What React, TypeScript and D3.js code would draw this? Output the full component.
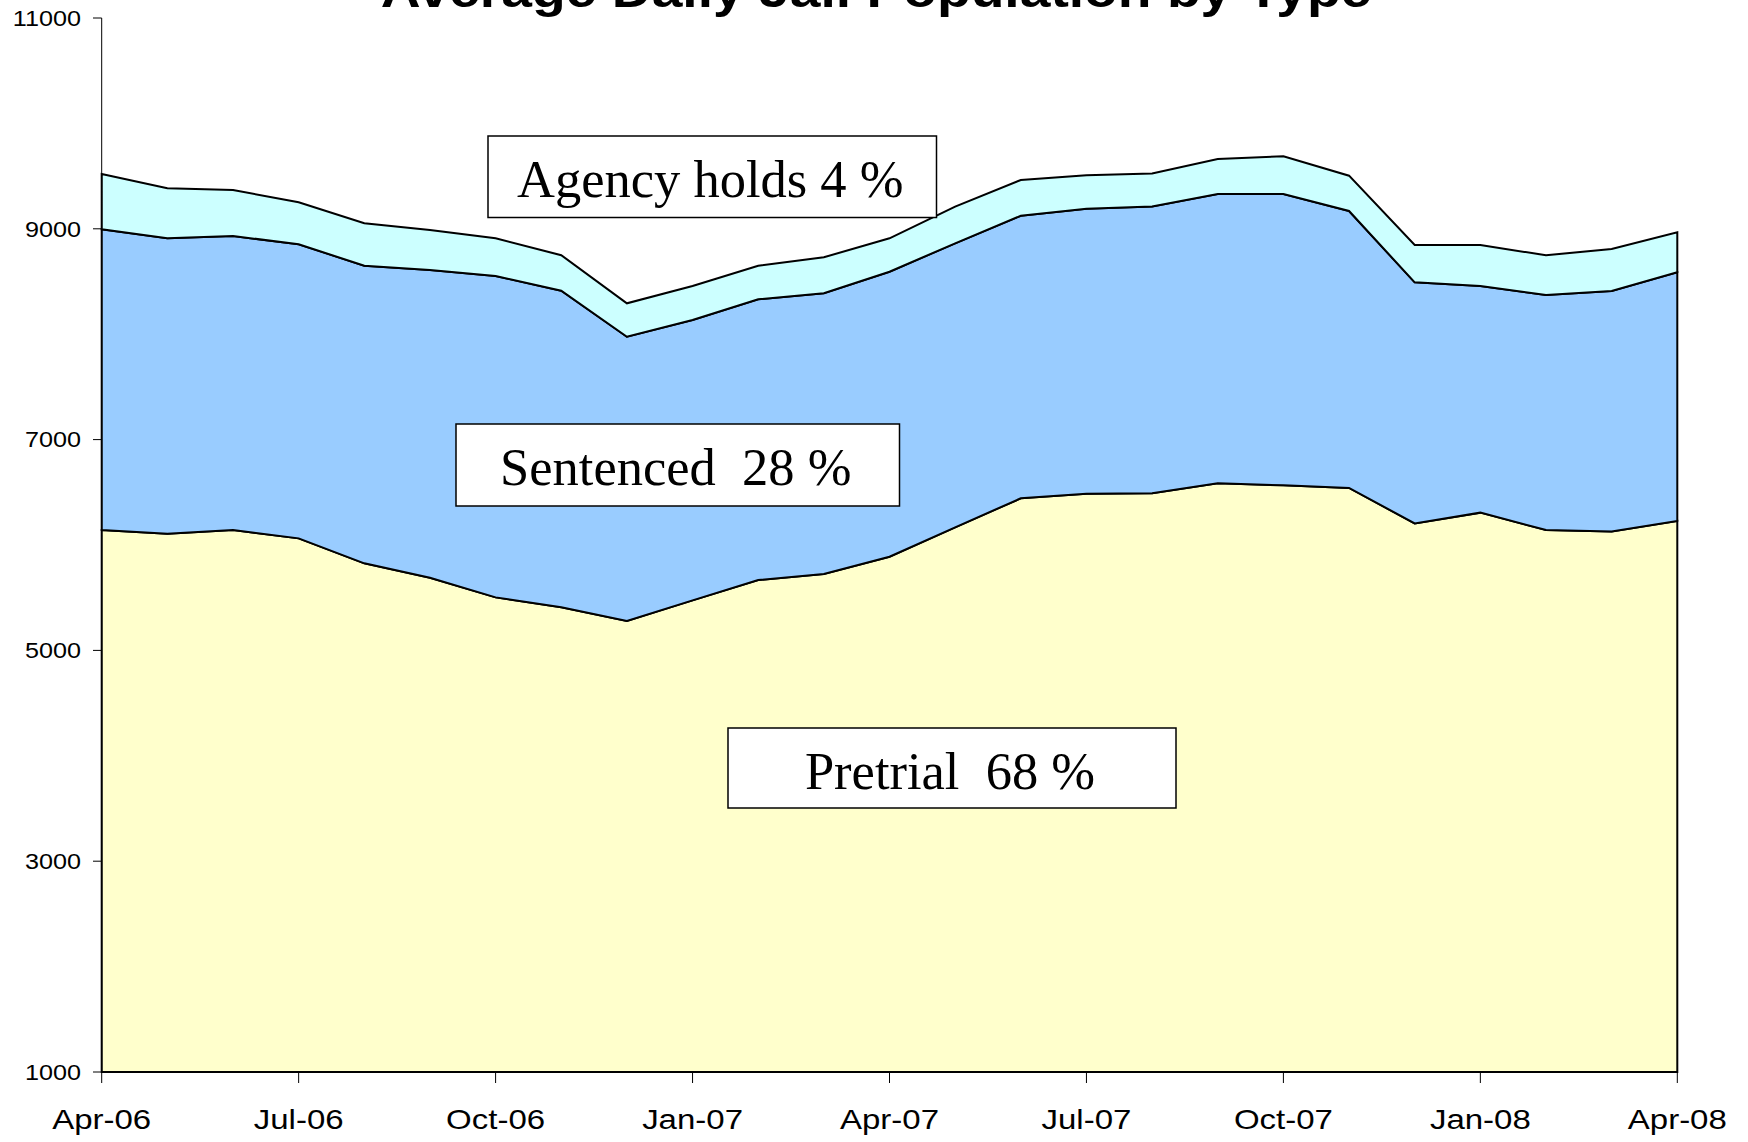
import React from "react";
import * as d3 from "d3";

const months = [
  "Apr-06", "May-06", "Jun-06", "Jul-06", "Aug-06", "Sep-06", "Oct-06", "Nov-06", "Dec-06",
  "Jan-07", "Feb-07", "Mar-07", "Apr-07", "May-07", "Jun-07", "Jul-07", "Aug-07", "Sep-07",
  "Oct-07", "Nov-07", "Dec-07", "Jan-08", "Feb-08", "Mar-08", "Apr-08",
];

const pretrial = [
  6142, 6107, 6142, 6063, 5826, 5690, 5503, 5409, 5279, 5475, 5668, 5725, 5889,
  6168, 6443, 6487, 6490, 6585, 6566, 6541, 6205, 6307, 6142, 6129, 6228,
];
const sentenced = [
  2853, 2803, 2790, 2790, 2824, 2919, 3049, 3004, 2697, 2660, 2663, 2663, 2704,
  2694, 2681, 2704, 2722, 2745, 2764, 2628, 2287, 2150, 2230, 2281, 2359,
];
const agency = [
  525, 474, 436, 398, 402, 380, 358, 336, 317, 322, 319, 342, 317,
  348, 339, 317, 313, 332, 358, 335, 354, 389, 377, 398, 379,
];

const xTickLabels = ["Apr-06", "Jul-06", "Oct-06", "Jan-07", "Apr-07", "Jul-07", "Oct-07", "Jan-08", "Apr-08"];
const yTicks = [1000, 3000, 5000, 7000, 9000, 11000];

const seriesKeys = ["pretrial", "sentenced", "agency"];
const seriesColors = ["#FFFFCC", "#99CCFF", "#CCFFFF"];

const labels = [
  { text: "Agency holds 4 %", box: [488, 136, 936.5, 217.5], baseline: 197 },
  { text: "Sentenced  28 %", box: [456, 424, 899.5, 506], baseline: 484.5 },
  { text: "Pretrial  68 %", box: [728, 728, 1176, 808], baseline: 788.5 },
];

export default function App() {
  const W = 1748;
  const H = 1142;
  const x = d3.scalePoint<string>().domain(months).range([101.7, 1677.3]);
  const y = d3.scaleLinear().domain([1000, 11000]).range([1072, 18]);

  const rows = months.map((m, i) => ({
    month: m,
    pretrial: pretrial[i],
    sentenced: sentenced[i],
    agency: agency[i],
  }));
  const stacked = d3.stack<any>().keys(seriesKeys)(rows);
  const area = d3
    .area<any>()
    .x((d) => x(d.data.month) as number)
    .y0((d) => y(Math.max(d[0], 1000)))
    .y1((d) => y(d[1]));

  const font = "'Liberation Sans', Arial, sans-serif";
  const serif = "'Liberation Serif', 'Times New Roman', serif";

  return (
    <svg
      width={W}
      height={H}
      style={{ position: "absolute", left: 0, top: 0, background: "#fff" }}
    >
      <rect x={0} y={0} width={W} height={H} fill="#fff" />
      {stacked.map((s, i) => (
        <path
          key={s.key}
          d={area(s as any) + "Z"}
          fill={seriesColors[i]}
          stroke="#000"
          strokeWidth={2}
          strokeLinejoin="miter"
        />
      ))}
      {/* y axis */}
      <line x1={101.7} x2={101.7} y1={y(11000)} y2={y(1000)} stroke="#000" strokeWidth={1} />
      {yTicks.map((t) => (
        <g key={t}>
          <line x1={93} x2={101.7} y1={y(t)} y2={y(t)} stroke="#000" strokeWidth={1} />
          <text
            transform={`translate(81,${y(t)}) scale(1.12,1)`}
            dy="0.35em"
            textAnchor="end"
            fontFamily={font}
            fontSize={22.5}
            fill="#000"
          >
            {t}
          </text>
        </g>
      ))}
      {/* x axis */}
      <line x1={101.7} x2={1677.3} y1={y(1000)} y2={y(1000)} stroke="#000" strokeWidth={2} />
      {xTickLabels.map((t) => (
        <g key={t}>
          <line x1={x(t)} x2={x(t)} y1={y(1000)} y2={y(1000) + 11} stroke="#000" strokeWidth={1} />
          <text
            transform={`translate(${x(t)},1129) scale(1.2,1)`}
            textAnchor="middle"
            fontFamily={font}
            fontSize={27.5}
            fill="#000"
          >
            {t}
          </text>
        </g>
      ))}
      {/* labels */}
      {labels.map((l) => (
        <g key={l.text}>
          <rect
            x={l.box[0]}
            y={l.box[1]}
            width={l.box[2] - l.box[0]}
            height={l.box[3] - l.box[1]}
            fill="#fff"
            stroke="#000"
            strokeWidth={1.5}
          />
          <text
            x={(l.box[0] + l.box[2]) / 2 - 2}
            y={l.baseline}
            textAnchor="middle"
            fontFamily={serif}
            fontSize={52.5}
            fill="#000"
            style={{ whiteSpace: "pre" }}
          >
            {l.text}
          </text>
        </g>
      ))}
      {/* title */}
      <text
        transform={`translate(876,7) scale(1.15,1)`}
        textAnchor="middle"
        fontFamily={font}
        fontWeight="bold"
        fontSize={48}
        fill="#000"
      >
        Average Daily Jail Population by Type
      </text>
    </svg>
  );
}
